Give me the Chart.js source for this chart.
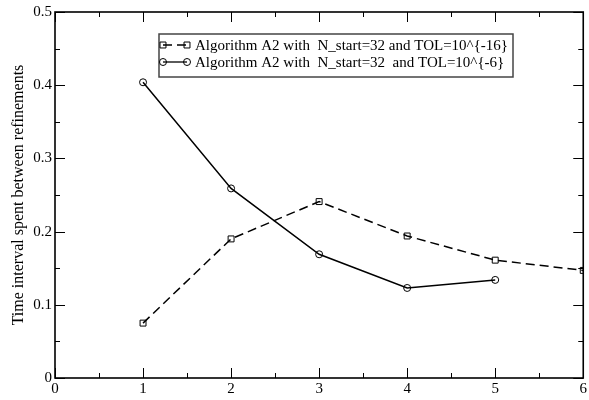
<!DOCTYPE html>
<html>
<head>
<meta charset="utf-8">
<script src="https://cdn.jsdelivr.net/npm/chart.js@4/dist/chart.umd.min.js"></script>
<style>
  html, body { margin: 0; padding: 0; background: #fff; }
  #wrap { width: 589px; height: 400px; }
</style>
</head>
<body>
<div id="wrap"><canvas id="c" width="589" height="400"></canvas></div>
<script>
const refinementSteps = [1, 2, 3, 4, 5, 6];
const timeTol16 = [0.075, 0.19, 0.241, 0.194, 0.161, 0.147];
const timeTol6 = [0.404, 0.259, 0.169, 0.123, 0.134];
const seriesLabels = [
  'Algorithm A2 with  N_start=32 and TOL=10^{-16}',
  'Algorithm A2 with  N_start=32  and TOL=10^{-6}'
];
const yTitle = 'Time interval spent between refinements';

const FONT = '"Liberation Serif", "Times New Roman", serif';

function pts(xs, ys) { return ys.map((y, i) => ({ x: xs[i], y })); }

const frameTicks = {
  id: 'frameTicks',
  afterDatasetsDraw(chart) {
    const { ctx, chartArea: a, scales } = chart;
    ctx.save();
    ctx.strokeStyle = '#000';
    ctx.lineWidth = 1;
    const drawTicks = (scale, horizontal) => {
      const vals = scale.ticks.map(t => t.value);
      const all = [];
      vals.forEach((v, i) => {
        all.push({ v, len: 10 });
        if (i < vals.length - 1) all.push({ v: (v + vals[i + 1]) / 2, len: 5 });
      });
      all.forEach(({ v, len }) => {
        const p = Math.round(scale.getPixelForValue(v)) + 0.5;
        ctx.beginPath();
        if (horizontal) {
          ctx.moveTo(p, a.bottom); ctx.lineTo(p, a.bottom - len);
          ctx.moveTo(p, a.top); ctx.lineTo(p, a.top + len);
        } else {
          ctx.moveTo(a.left, p); ctx.lineTo(a.left + len, p);
          ctx.moveTo(a.right, p); ctx.lineTo(a.right - len, p);
        }
        ctx.stroke();
      });
    };
    drawTicks(scales.x, true);
    drawTicks(scales.y, false);
    ctx.lineWidth = 1.6;
    ctx.strokeRect(a.left, a.top, a.right - a.left, a.bottom - a.top);
    ctx.restore();
  },
  afterDraw(chart) {
    const { ctx } = chart;
    const box = { x: 159, y: 34, w: 354, h: 43 };
    ctx.save();
    ctx.fillStyle = '#fff';
    ctx.fillRect(box.x, box.y, box.w, box.h);
    ctx.strokeStyle = '#444';
    ctx.lineWidth = 1.5;
    ctx.strokeRect(box.x, box.y, box.w, box.h);
    const rows = [45, 62];
    chart.data.datasets.forEach((ds, i) => {
      const y = rows[i];
      const x0 = 163, x1 = 187;
      ctx.strokeStyle = '#000';
      ctx.lineWidth = 1.3;
      ctx.setLineDash(ds.borderDash || []);
      ctx.beginPath();
      ctx.moveTo(x0, y); ctx.lineTo(x1, y);
      ctx.stroke();
      ctx.setLineDash([]);
      ctx.lineWidth = 1;
      ctx.fillStyle = 'rgba(0,0,0,0)';
      [x0, x1].forEach(px => {
        Chart.helpers.drawPoint(ctx, { pointStyle: ds.pointStyle, radius: ds.pointRadius, borderWidth: 1 }, px, y);
      });
      ctx.fillStyle = '#000';
      ctx.font = '15px ' + FONT;
      ctx.textBaseline = 'middle';
      ctx.textAlign = 'left';
      ctx.fillText(ds.label, 195, y + 1);
    });
    ctx.restore();
  }
};

new Chart(document.getElementById('c'), {
  type: 'line',
  data: {
    datasets: [
      {
        label: seriesLabels[0],
        data: pts(refinementSteps, timeTol16),
        borderColor: '#000',
        borderWidth: 1.5,
        borderDash: [9, 5],
        pointStyle: 'rect',
        pointRadius: 4.2,
        pointBorderWidth: 1,
        pointBorderColor: '#000',
        pointBackgroundColor: 'transparent',
        fill: false,
        tension: 0
      },
      {
        label: seriesLabels[1],
        data: pts(refinementSteps, timeTol6),
        borderColor: '#000',
        borderWidth: 1.5,
        pointStyle: 'circle',
        pointRadius: 3.5,
        pointBorderWidth: 1,
        pointBorderColor: '#000',
        pointBackgroundColor: 'transparent',
        fill: false,
        tension: 0
      }
    ]
  },
  options: {
    responsive: false,
    animation: false,
    layout: { padding: { top: 8, right: 5, left: 0, bottom: 0 } },
    plugins: { legend: { display: false }, tooltip: { enabled: false } },
    scales: {
      x: {
        type: 'linear', min: 0, max: 6,
        grid: { display: false, drawTicks: false },
        border: { display: false },
        ticks: { stepSize: 1, padding: 2, color: '#000', font: { family: FONT, size: 15 }, maxRotation: 0 },
        afterFit(s) { s.height = 22; }
      },
      y: {
        type: 'linear', min: 0, max: 0.5,
        grid: { display: false, drawTicks: false },
        border: { display: false },
        ticks: { stepSize: 0.1, padding: 3, color: '#000', font: { family: FONT, size: 15 } },
        title: { display: true, text: yTitle, color: '#000', font: { family: FONT, size: 16 }, padding: { top: 9, bottom: 0 } },
        afterFit(s) { s.width = 55; }
      }
    }
  },
  plugins: [frameTicks]
});
</script>
</body>
</html>
